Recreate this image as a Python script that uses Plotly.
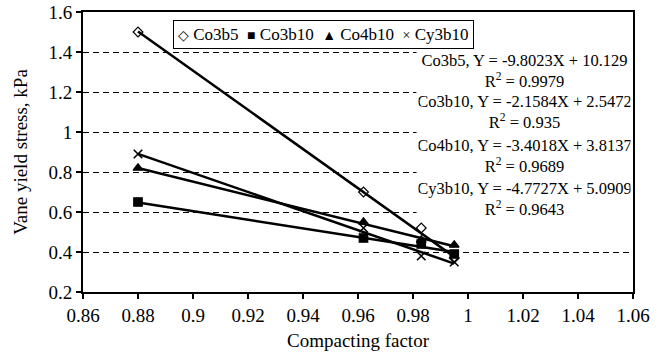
import plotly.graph_objects as go

# Data
x_vals = [0.88, 0.962, 0.983, 0.995]
series_names = ["Co3b5", "Co3b10", "Co4b10", "Cy3b10"]
co3b5 = [1.50, 0.70, 0.52, 0.37]
co3b10 = [0.65, 0.47, 0.44, 0.39]
co4b10 = [0.82, 0.55, 0.46, 0.435]
cy3b10 = [0.89, 0.52, 0.38, 0.35]
series_values = [co3b5, co3b10, co4b10, cy3b10]
symbols = ["diamond-open", "square", "triangle-up", "x-thin-open"]
legend_glyphs = ["◇", "■", "▲", "×"]

# Trendline coefficients as printed on the chart
slopes = [-9.8023, -2.1584, -3.4018, -4.7727]
intercepts = [10.129, 2.5472, 3.8137, 5.0909]
r2_values = ["0.9979", "0.935", "0.9689", "0.9643"]
slope_labels = ["-9.8023", "-2.1584", "-3.4018", "-4.7727"]
intercept_labels = ["10.129", "2.5472", "3.8137", "5.0909"]

x_ticks = [0.86, 0.88, 0.9, 0.92, 0.94, 0.96, 0.98, 1, 1.02, 1.04, 1.06]
y_ticks = [0.2, 0.4, 0.6, 0.8, 1, 1.2, 1.4, 1.6]

FONT = "Liberation Serif, Times New Roman, serif"

fig = go.Figure()

# trendlines
x0, x1 = min(x_vals), max(x_vals)
for name, m, b in zip(series_names, slopes, intercepts):
    fig.add_trace(go.Scatter(
        x=[x0, x1], y=[m * x0 + b, m * x1 + b], mode="lines",
        line=dict(color="black", width=2.5), showlegend=False, hoverinfo="skip"))

# markers
for name, vals, sym in zip(series_names, series_values, symbols):
    fig.add_trace(go.Scatter(
        x=x_vals, y=vals, mode="markers", name=name, showlegend=False,
        marker=dict(symbol=sym, size=8.5 if sym != "diamond-open" else 7.5, color="black",
                    line=dict(color="black", width=1.6 if sym == "x-thin-open" else 1.2))))

# equation annotations
block_y = [1.31, 1.105, 0.885, 0.6675]
for name, sl, ic, r2, yc in zip(series_names, slope_labels, intercept_labels, r2_values, block_y):
    fig.add_annotation(
        x=1.0205, y=yc, xref="x", yref="y", width=212,
        text=f"{name}, Y = {sl}X + {ic}<br>R<sup>2</sup> = {r2}",
        showarrow=False, align="center", bgcolor="white", borderpad=1.5,
        font=dict(family=FONT, size=16.5, color="black"))

# legend box (compact, as in the reference)
legend_text = " \u00a0".join(
    f"<span style='font-size:14px'>{g}</span> {n}" for g, n in zip(legend_glyphs, series_names))
fig.add_annotation(
    x=0.9473, y=1.4875, xref="x", yref="y", text=legend_text, showarrow=False,
    bgcolor="white", bordercolor="black", borderwidth=1, borderpad=4,
    font=dict(family=FONT, size=17, color="black"))

axis_common = dict(
    showline=True, linecolor="black", linewidth=2, mirror=True,
    ticks="outside", ticklen=5, tickwidth=1.5, tickcolor="black",
    tickfont=dict(family=FONT, size=19, color="black"), zeroline=False,
    automargin=False)

fig.update_xaxes(range=[0.86, 1.06], tickvals=x_ticks, showgrid=False,
                 title=dict(text="Compacting factor", font=dict(family=FONT, size=19, color="black"), standoff=9),
                 **axis_common)
fig.update_yaxes(range=[0.2, 1.6], tickvals=y_ticks, showgrid=True,
                 gridcolor="black", griddash="6px,4px", gridwidth=1,
                 title=dict(text="Vane yield stress, kPa", font=dict(family=FONT, size=19, color="black"), standoff=16),
                 **axis_common)

fig.update_layout(
    width=667, height=357,
    margin=dict(l=83, r=34, t=12, b=65, autoexpand=False),
    paper_bgcolor="white", plot_bgcolor="white",
    font=dict(family=FONT, color="black"),
    showlegend=False,
)

# remove the browser's default 8px body margin so the figure fills the window
fig.write_html("out.html", config={"displayModeBar": False},
               post_script="document.body.style.margin='0px';")
